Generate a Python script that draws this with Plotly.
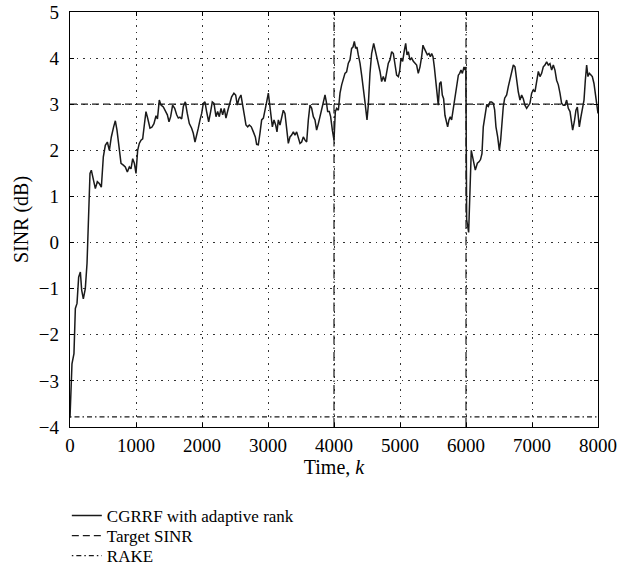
import plotly.graph_objects as go

# Time index k and SINR (dB) of the CGRRF receiver with adaptive rank
time_k = [
    0, 30, 60, 81, 106, 131, 157, 177, 202, 232, 258, 283, 303, 323, 354, 384, 414, 444, 475,
    505, 535, 566, 596, 626, 661, 687, 712, 747, 773, 808, 838, 869, 899, 924, 950, 975,
    1000, 1025, 1050, 1076, 1101, 1126, 1151, 1176, 1212, 1240, 1272, 1303, 1325, 1353, 1379,
    1414, 1444, 1475, 1500, 1525, 1555, 1586, 1616, 1641, 1665, 1692, 1717, 1747, 1777, 1808,
    1843, 1868, 1894, 1919, 1944, 1970, 1995, 2020, 2045, 2070, 2101, 2131, 2156, 2182, 2212,
    2237, 2262, 2288, 2313, 2338, 2363, 2394, 2424, 2449, 2484, 2510, 2535, 2560, 2590, 2616,
    2641, 2666, 2692, 2717, 2747, 2778, 2808, 2828, 2853, 2878, 2904, 2930, 2960, 2980, 3005,
    3025, 3045, 3066, 3091, 3116, 3136, 3157, 3182, 3207, 3232, 3257, 3283, 3308, 3333, 3358,
    3384, 3409, 3434, 3460, 3485, 3510, 3535, 3561, 3586, 3611, 3636, 3662, 3687, 3712, 3737,
    3763, 3788, 3813, 3838, 3864, 3884, 3904, 3929, 3949, 3975, 4000, 4020, 4040, 4066, 4091,
    4116, 4141, 4166, 4191, 4217, 4242, 4267, 4288, 4308, 4328, 4348, 4368, 4394, 4419, 4444,
    4469, 4500, 4520, 4545, 4570, 4601, 4621, 4646, 4671, 4697, 4722, 4747, 4773, 4798, 4823,
    4848, 4874, 4899, 4924, 4949, 4975, 4995, 5015, 5040, 5066, 5086, 5106, 5126, 5151, 5177,
    5202, 5227, 5252, 5277, 5303, 5328, 5348, 5368, 5389, 5414, 5439, 5460, 5480, 5500, 5520,
    5540, 5560, 5580, 5601, 5621, 5641, 5661, 5681, 5707, 5722, 5742, 5762, 5782, 5803, 5823,
    5843, 5864, 5884, 5904, 5924, 5945, 5970, 5985, 5998, 6010, 6040, 6080, 6111, 6141, 6172,
    6197, 6220, 6242, 6262, 6288, 6313, 6338, 6363, 6389, 6414, 6434, 6454, 6480, 6505, 6525,
    6545, 6565, 6586, 6616, 6641, 6666, 6692, 6717, 6742, 6767, 6792, 6818, 6843, 6868, 6893,
    6919, 6944, 6969, 6995, 7020, 7045, 7070, 7096, 7121, 7146, 7171, 7196, 7222, 7247, 7272,
    7298, 7323, 7348, 7373, 7399, 7424, 7449, 7474, 7500, 7525, 7550, 7576, 7601, 7616, 7641,
    7666, 7687, 7702, 7717, 7742, 7768, 7788, 7808, 7828, 7848, 7869, 7890, 7914, 7939, 7960,
    7980, 8000,
]
sinr_db = [
    -3.80, -2.63, -2.41, -1.43, -1.32, -0.75, -0.64, -1.03, -1.22, -1.00, -0.45, 0.99, 1.50, 1.57, 1.39, 1.17, 1.32, 1.28, 1.20,
    1.86, 2.11, 2.18, 2.00, 2.29, 2.51, 2.64, 2.44, 2.00, 1.72, 1.68, 1.64, 1.53, 1.64, 1.60, 1.82, 1.72,
    1.50, 2.00, 2.15, 2.22, 2.25, 2.55, 2.84, 2.70, 2.48, 2.50, 2.58, 2.75, 2.68, 3.09, 2.98,
    2.94, 2.87, 2.77, 2.62, 2.73, 2.98, 2.91, 2.77, 2.70, 2.72, 2.68, 2.95, 3.05, 2.80, 2.58,
    2.48, 2.37, 2.18, 2.37, 2.48, 2.66, 2.80, 3.02, 3.05, 2.84, 2.62, 2.84, 3.05, 3.02, 2.73,
    2.84, 2.73, 2.91, 2.77, 2.91, 2.70, 2.88, 3.05, 3.16, 3.24, 3.20, 2.98, 3.12, 3.20, 3.02,
    2.77, 2.55, 2.51, 2.55, 2.51, 2.40, 2.29, 2.13, 2.12, 2.37, 2.66, 2.70, 2.88, 3.05, 3.24,
    2.97, 2.69, 2.51, 2.66, 2.55, 2.40, 2.66, 2.55, 2.69, 2.87, 2.80, 2.44, 2.15, 2.29, 2.33,
    2.40, 2.33, 2.40, 2.29, 2.15, 2.18, 2.29, 2.22, 2.18, 2.66, 2.98, 2.91, 2.73, 2.66, 2.44,
    2.58, 2.73, 2.84, 2.98, 3.20, 3.05, 2.84, 2.84, 2.73, 2.44, 2.22, 2.84, 2.91, 2.87, 3.24,
    3.42, 3.56, 3.67, 3.70, 3.89, 3.96, 4.21, 4.24, 4.36, 4.21, 4.24, 4.07, 3.89, 3.63, 3.38,
    3.05, 2.66, 2.98, 3.67, 4.10, 4.32, 4.20, 4.06, 3.89, 3.71, 3.49, 3.60, 3.49, 3.71, 3.89,
    3.96, 4.14, 4.10, 3.82, 3.63, 3.60, 3.72, 4.00, 3.93, 4.17, 4.32, 4.07, 4.14, 3.96, 4.00,
    3.93, 3.89, 3.85, 3.67, 3.81, 4.03, 4.28, 4.21, 4.14, 4.07, 4.10, 4.03, 4.10, 4.03, 3.81,
    3.56, 3.24, 2.98, 3.45, 3.49, 3.20, 3.12, 2.76, 2.62, 2.51, 2.66, 2.73, 2.66, 2.88, 3.02,
    3.27, 3.52, 3.63, 3.67, 3.74, 3.67, 3.81, 3.74, 3.81, 0.50, 0.22, 2.00, 1.75, 1.57, 1.72,
    1.75, 1.80, 1.93, 2.51, 2.76, 2.98, 2.95, 3.05, 3.05, 3.02, 2.88, 2.51, 2.29, 2.00, 2.22,
    2.66, 2.95, 3.13, 3.20, 3.38, 3.56, 3.74, 3.85, 3.81, 3.52, 3.27, 3.09, 3.20, 3.12, 2.98,
    2.91, 2.98, 3.02, 3.24, 3.31, 3.27, 3.52, 3.71, 3.60, 3.67, 3.81, 3.85, 3.92, 3.85, 3.88,
    3.74, 3.85, 3.74, 3.52, 3.42, 3.24, 3.02, 2.98, 2.98, 3.09, 2.91, 2.84, 2.62, 2.44, 2.62,
    2.87, 2.94, 2.73, 2.51, 2.73, 2.98, 3.09, 3.52, 3.85, 3.60, 3.67, 3.64, 3.60, 3.45, 3.24,
    3.09, 2.80,
]

# Reference levels
target_sinr_db = 3.0
rake_sinr_db = -3.78
k_range = [0, 8000]
event_times = [4000, 6000]

x_ticks = [0, 1000, 2000, 3000, 4000, 5000, 6000, 7000, 8000]
y_ticks = [-4, -3, -2, -1, 0, 1, 2, 3, 4, 5]

FONT = "Liberation Serif"
INK = "#1a1a1a"

fig = go.Figure()

# Markers for the change instants
for t in event_times:
    fig.add_trace(go.Scatter(
        x=[t, t], y=[-4, 5], mode="lines", showlegend=False, hoverinfo="skip",
        line=dict(color=INK, width=1.2, dash="9px,3px,1.5px,3px"),
    ))

fig.add_trace(go.Scatter(
    x=time_k, y=sinr_db, mode="lines", name="CGRRF with adaptive rank",
    line=dict(color=INK, width=1.5), legend="legend",
))
fig.add_trace(go.Scatter(
    x=k_range, y=[target_sinr_db] * 2, mode="lines", name="Target SINR",
    line=dict(color=INK, width=1.3, dash="7px,4px"), legend="legend2",
))
fig.add_trace(go.Scatter(
    x=k_range, y=[rake_sinr_db] * 2, mode="lines", name="RAKE",
    line=dict(color=INK, width=1.2, dash="1.5px,3px,5px,3px"), legend="legend3",
))

axis_common = dict(
    showline=True, linecolor="black", linewidth=1.3, mirror="ticks",
    ticks="inside", ticklen=4, tickcolor="black", tickwidth=1,
    showgrid=True, gridcolor="#333333", gridwidth=1, griddash="1.5px,5px",
    zeroline=False, automargin=False,
    tickfont=dict(family=FONT, size=19, color="black"),
)

fig.update_xaxes(
    range=k_range, tickvals=x_ticks, ticklabelstandoff=1,
    title=dict(text="Time, <i>k</i>", font=dict(family=FONT, size=20, color="black"), standoff=4),
    **axis_common,
)
fig.update_yaxes(
    range=[-4, 5], tickvals=y_ticks, ticklabelstandoff=6,
    title=dict(text="SINR (dB)", font=dict(family=FONT, size=20, color="black"), standoff=4),
    **axis_common,
)


def legend_row(y_px):
    # one legend per row so the rows can sit close together
    return dict(
        orientation="v", xref="paper", x=-0.006, xanchor="left",
        yref="container", y=1 - y_px / 584, yanchor="middle",
        font=dict(family=FONT, size=17, color="black"),
        bgcolor="rgba(0,0,0,0)", borderwidth=0,
    )


fig.update_layout(
    width=634, height=584,
    margin=dict(l=70, r=36, t=12, b=157),
    paper_bgcolor="white", plot_bgcolor="white",
    font=dict(family=FONT, color="black"),
    showlegend=True,
    legend=legend_row(516),
    legend2=legend_row(536),
    legend3=legend_row(556),
)

fig.write_html("out.html")
